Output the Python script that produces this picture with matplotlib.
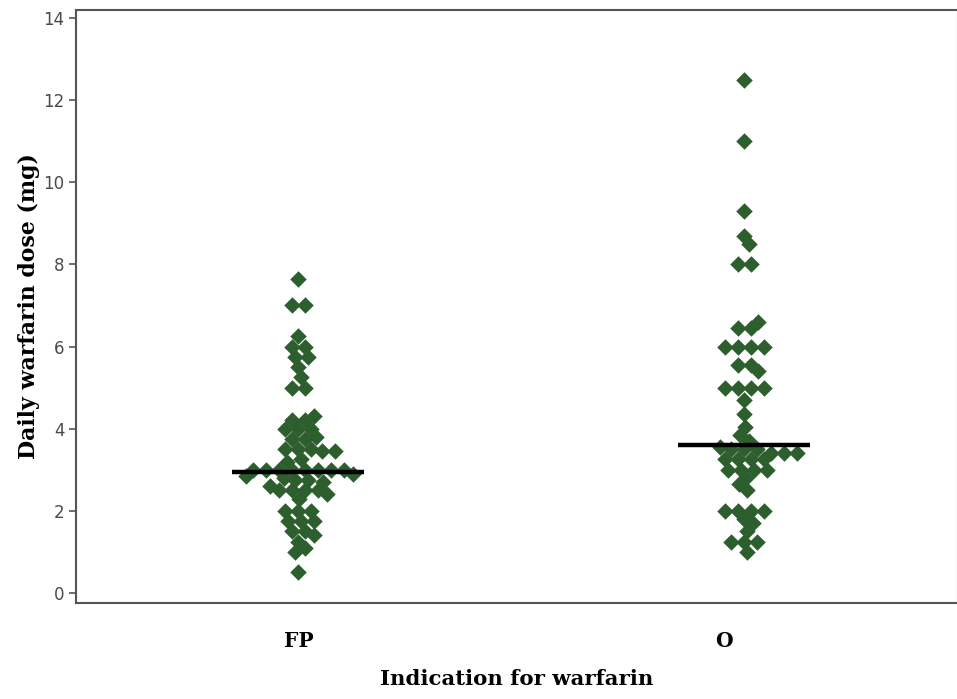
import matplotlib
matplotlib.use("Agg")
import matplotlib.pyplot as plt
import numpy as np
from collections import Counter

categories = ["FP", "O"]

fp_values = [7.65, 7.0, 7.0, 6.25, 6.0, 6.0, 5.75, 5.75, 5.5, 5.25, 5.0, 5.0,
             4.3, 4.2, 4.2, 4.0, 4.0, 4.0, 3.8, 3.75, 3.75, 3.5, 3.5, 3.5,
             3.45, 3.45, 3.25, 3.2, 3.0, 3.0, 3.0, 3.0, 3.0, 3.0, 3.0, 3.0,
             2.9, 2.85, 2.8, 2.75, 2.75, 2.7, 2.6, 2.5, 2.5, 2.5, 2.5, 2.4, 2.3,
             2.0, 2.0, 2.0, 1.75, 1.75, 1.75, 1.5, 1.5, 1.4, 1.25, 1.1, 1.0, 0.5]

o_values = [12.5, 11.0, 9.3, 8.7, 8.5, 8.0, 8.0,
            6.6, 6.45, 6.45, 6.0, 6.0, 6.0, 6.0, 5.55, 5.55, 5.4,
            5.0, 5.0, 5.0, 5.0, 4.7, 4.35, 4.05, 3.85, 3.7,
            3.55, 3.5, 3.5, 3.5, 3.4, 3.4, 3.4, 3.25, 3.25, 3.25, 3.25,
            3.0, 3.0, 3.0, 3.0, 2.8, 2.65, 2.5, 2.0, 2.0, 2.0, 2.0,
            1.8, 1.7, 1.5, 1.25, 1.25, 1.25, 1.0]

medians = [2.95, 3.6]

y_ticks = [0, 2, 4, 6, 8, 10, 12, 14]

W, H, DPI = 9.57, 6.99, 100
AX_RECT = [0.079, 0.137, 0.922, 0.849]
XLIM = (-0.5, 1.48)
YLIM = (-0.25, 14.2)
MARKER_W_PX = 16.5      # nominal diamond width in pixels
SPACING_PX = 13.0       # min L1 centre distance between diamonds


def diamond_swarm(values):
    """Lay out diamonds (L1 no-overlap) with equal values kept in centred rows."""
    ax_w = AX_RECT[2] * W * DPI
    ax_h = AX_RECT[3] * H * DPI
    sx = ax_w / (XLIM[1] - XLIM[0])
    sy = ax_h / (YLIM[1] - YLIM[0])
    counts = Counter(values)
    groups = sorted(counts.items(), key=lambda kv: (-kv[1], -kv[0]))
    placed = []
    out = []
    grid = np.arange(0, 400, 0.5)
    cands = np.concatenate([[0.0], np.ravel(np.column_stack([grid[1:], -grid[1:]]))])
    for val, n in groups:
        ypx = val * sy
        base = (np.arange(n) - (n - 1) / 2) * SPACING_PX
        for c in cands:
            xs = base + c
            ok = True
            for (px, py) in placed:
                dy = abs(py - ypx)
                if dy >= SPACING_PX:
                    continue
                if np.any(np.abs(xs - px) + dy < SPACING_PX - 1e-6):
                    ok = False
                    break
            if ok:
                break
        for x in xs:
            placed.append((x, ypx))
            out.append((x / sx, val))
    return out


fig = plt.figure(figsize=(W, H), dpi=DPI)
ax = fig.add_axes(AX_RECT)

ms_area = (MARKER_W_PX / 1.4142 * 72 / DPI) ** 2
for i, vals in enumerate([fp_values, o_values]):
    pts = diamond_swarm(vals)
    xs = [i + p[0] for p in pts]
    ys = [p[1] for p in pts]
    ax.scatter(xs, ys, marker="D", s=ms_area, color="#2d5e2d", linewidths=0, zorder=2)

for i, m in enumerate(medians):
    ax.hlines(m, i - 0.148, i + 0.148, color="black", linewidth=3.2, zorder=3)

ax.set_xlim(*XLIM)
ax.set_ylim(*YLIM)
ax.set_yticks(y_ticks)
ax.set_yticklabels([str(t) for t in y_ticks], fontsize=12, color="#4a4a4a",
                   family="DejaVu Sans")
ax.set_xticks([0, 0.955])
ax.set_xticklabels(categories, fontsize=14.5, fontweight="bold", family="DejaVu Serif")
ax.tick_params(axis="x", length=0, pad=20)
ax.tick_params(axis="y", length=5, width=1.2, color="#555555", pad=3)

for s in ax.spines.values():
    s.set_color("#555555")
    s.set_linewidth(1.5)

ax.set_xlabel("Indication for warfarin", fontsize=15.3, fontweight="bold",
              family="DejaVu Serif", labelpad=13)
ax.set_ylabel("Daily warfarin dose (mg)", fontsize=15.8, fontweight="bold",
              family="DejaVu Serif", labelpad=2)

fig.savefig("out.png", dpi=DPI)
